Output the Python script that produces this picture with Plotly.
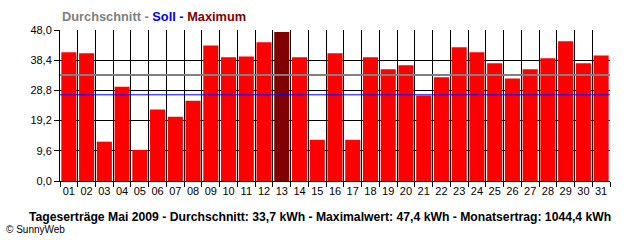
import plotly.graph_objects as go

days = [f"{d:02d}" for d in range(1, 32)]
ertrag = [40.9, 40.6, 12.5, 30.0, 9.9, 22.7, 20.4, 25.5, 43.1, 39.3,
          39.6, 44.1, 47.4, 39.3, 13.1, 40.6, 13.1, 39.3, 35.5, 36.8,
          27.2, 33.0, 42.5, 40.9, 37.4, 32.6, 35.5, 39.0, 44.4, 37.4, 39.9]
durchschnitt = 33.7
soll = 27.4
y_ticks = [0, 9.6, 19.2, 28.8, 38.4, 48.0]
y_ticktext = ["0,0", "9,6", "19,2", "28,8", "38,4", "48,0"]

max_val = max(ertrag)
colors = ["#800000" if v == max_val else "#FF0000" for v in ertrag]

FONT = "Liberation Sans, Arial, sans-serif"

fig = go.Figure()
fig.add_trace(go.Bar(x=days, y=ertrag, marker=dict(color=colors, line=dict(width=0)),
                     showlegend=False, hoverinfo="skip"))

fig.add_shape(type="line", xref="paper", x0=0, x1=1, yref="y", y0=durchschnitt, y1=durchschnitt,
              line=dict(color="#808080", width=2), layer="above")
fig.add_shape(type="line", xref="paper", x0=0, x1=1, yref="y", y0=soll, y1=soll,
              line=dict(color="#0000FF", width=1), layer="above")

fig.update_layout(
    width=640, height=240,
    margin=dict(l=60, r=30, t=30, b=59),
    paper_bgcolor="white", plot_bgcolor="white",
    bargap=0.15,
    font=dict(family=FONT, size=11, color="#000000"),
    xaxis=dict(type="category", tickson="boundaries", range=[-0.5, 30.5],
               tickangle=0,
               showgrid=True, gridcolor="#000000", gridwidth=1,
               ticks="outside", ticklen=5, tickcolor="#000000",
               showline=True, linecolor="#000000", linewidth=1,
               tickfont=dict(size=11, color="#000000", family=FONT)),
    yaxis=dict(range=[0, 48], tickvals=y_ticks, ticktext=y_ticktext,
               showgrid=True, gridcolor="#000000", gridwidth=1, zeroline=False,
               ticks="outside", ticklen=5, tickcolor="#000000",
               showline=True, linecolor="#000000", linewidth=1,
               tickfont=dict(size=11, color="#000000", family=FONT)),
)

fig.add_annotation(xref="paper", yref="paper", x=0, y=1, xanchor="left", yanchor="middle",
                   yshift=14, showarrow=False,
                   text="<b><span style='color:#808080'>Durchschnitt -</span> "
                        "<span style='color:#0000FF'>Soll -</span> "
                        "<span style='color:#800000'>Maximum</span></b>",
                   font=dict(size=12.8, family=FONT))
fig.add_annotation(xref="paper", yref="paper", x=0.4736, y=0, xanchor="center", yanchor="middle",
                   yshift=-36, showarrow=False,
                   text=f"<b>Tageserträge Mai 2009 - Durchschnitt: {str(durchschnitt).replace('.', ',')} kWh - "
                        f"Maximalwert: {str(max_val).replace('.', ',')} kWh - "
                        f"Monatsertrag: 1044,4 kWh</b>",
                   font=dict(size=12.2, family=FONT, color="#000000"))
fig.add_annotation(xref="paper", yref="paper", x=-0.1018, y=0, xanchor="left", yanchor="middle",
                   yshift=-48, showarrow=False, text="© SunnyWeb",
                   font=dict(size=10, family=FONT, color="#000000"))

fig.write_html("out.html")
